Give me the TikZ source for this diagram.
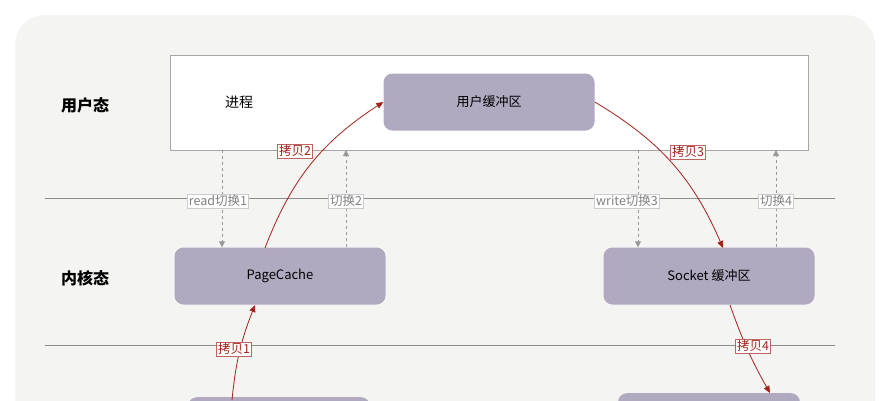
\documentclass[tikz,border=0pt]{standalone}
\usepackage{fontspec}
\setmainfont{Noto Sans CJK SC}
\usetikzlibrary{arrows.meta}
\definecolor{bufgray}{HTML}{B1A9BF}
\definecolor{copyred}{HTML}{A3231A}
\definecolor{bggray}{HTML}{F4F4F2}
\tikzset{
  buf/.style={rectangle,rounded corners=9pt,fill=bufgray,minimum width=211pt,minimum height=57pt,font=\fontsize{13}{15}\selectfont},
  copylbl/.style={fill=white,draw=copyred!70,text=copyred,inner sep=1.5pt,font=\fontsize{12.5}{14}\selectfont},
  switchlbl/.style={fill=white,draw=gray!40,text=gray,inner sep=1.5pt,font=\fontsize{12.5}{14}\selectfont},
  copyarrow/.style={copyred,thick,-{Triangle[length=7pt,width=6pt]}},
  switcharrow/.style={gray!80,thick,dashed,-{Triangle[length=6pt,width=6pt]}},
  state/.style={font=\bfseries\fontsize{16}{18}\selectfont}
}
\begin{document}
\begin{tikzpicture}[x=1pt,y=-1pt]
\useasboundingbox (0,0) rectangle (891,400);
\begin{scope}
\clip (0,0) rectangle (891,400);
\fill[bggray,rounded corners=30pt] (15,15) rectangle (875,440);
% user space box
\draw[gray!70,fill=white] (170,55) rectangle (808,150);
\draw[gray!90] (45,198) -- (835,198);
\draw[gray!90] (45,345) -- (835,345);
\node[state] (user) at (85,105) {用户态};
\node[state] (kernel) at (85,278) {内核态};
\node[font=\fontsize{14}{16}\selectfont] (proc) at (239,102) {进程};
\node[buf] (ubuf) at (489,102) {用户缓冲区};
\node[buf] (pc) at (280,276) {PageCache};
\node[buf] (sock) at (709,276) {Socket 缓冲区};
\node[buf,minimum width=182pt,anchor=north] (disk) at (279,397) {};
\node[buf,minimum width=182pt,anchor=north] (nic) at (709,393) {};
% switches
\coordinate (s1a) at (222,150); \coordinate (s2b) at (346,150);
\coordinate (s3a) at (638,150); \coordinate (s4b) at (776,150);
\draw[switcharrow] (s1a) -- (s1a |- pc.north);
\draw[switcharrow] (s2b |- pc.north) -- (s2b);
\draw[switcharrow] (s3a) -- (s3a |- sock.north);
\draw[switcharrow] (s4b |- sock.north) -- (s4b);
\node[switchlbl] (sw1) at (218,201) {read切换1};
\node[switchlbl] (sw2) at (346,201) {切换2};
\node[switchlbl] (sw3) at (627,201) {write切换3};
\node[switchlbl] (sw4) at (776,201) {切换4};
% copies
\coordinate (c1) at (232,400);
\draw[copyarrow] (c1) to[bend left=8] (255,305);
\draw[copyarrow] (265,248) to[bend left=18] (ubuf.west);
\draw[copyarrow] (ubuf.east) to[bend left=18] (723,248);
\draw[copyarrow] (730,305) to[bend right=5] (770,393);
\node[copylbl] (cp1) at (234,349) {拷贝1};
\node[copylbl] (cp2) at (295,151) {拷贝2};
\node[copylbl] (cp3) at (688,152) {拷贝3};
\node[copylbl] (cp4) at (753,346) {拷贝4};
\end{scope}
\end{tikzpicture}
\end{document}
